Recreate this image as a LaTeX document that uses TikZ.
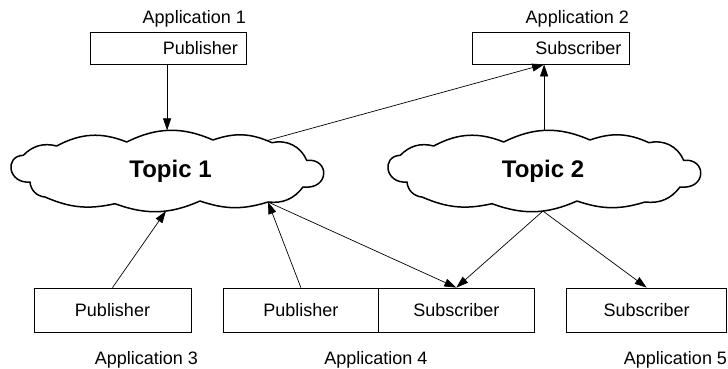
\documentclass[tikz,border=0pt]{standalone}
\usepackage{fontspec}
\setmainfont{Liberation Sans}
\usetikzlibrary{arrows.meta}
\newcommand{\cloudoutline}[1]{%
\draw[cloudline] (23.3,155.3) to[bend left=30] (56.7,146) to[bend left=25] (126.7,142)
  to[bend left=25] coordinate[pos=0.47] (#1n) (213,140)
  to[bend left=22] coordinate[pos=0.92] (#1ne) (272,142.7)
  to[bend left=40] (306.7,160.3) .. controls (330,158) and (330,190) .. (303,187)
  to[bend left=30] (268,202) coordinate (#1se)
  to[bend left=18] (200,201)
  to[bend left=22] coordinate[pos=0.4] (#1s) (115,203.7)
  to[bend left=18] (45,197) to[bend left=40] (30,182)
  .. controls (8,184) and (4,156) .. cycle;}
\begin{document}
\begin{tikzpicture}[x=1pt,y=-1pt,
  box/.style={draw, line width=0.8pt, rectangle, inner sep=0pt, font=\fontsize{18}{21}\selectfont},
  cloudline/.style={draw, line width=1.5pt, line join=round},
  topictext/.style={inner sep=0pt, font=\bfseries\fontsize{24}{28}\selectfont},
  lab/.style={font=\fontsize{18}{21}\selectfont, inner sep=0pt},
  arr/.style={line width=0.7pt, -{Triangle[length=12pt,width=8pt]}}]
\useasboundingbox (0,0) rectangle (728,369);

% top boxes
\node[box, minimum width=156, minimum height=32, text width=140, align=right] (p1) at (168,48) {Publisher};
\node[lab, anchor=base east] (a1) at (246,24) {Application 1};
\node[box, minimum width=157, minimum height=32, text width=142, align=right] (s2) at (550.5,48) {Subscriber};
\node[lab, anchor=base east] (a2) at (629,24) {Application 2};

% clouds
\cloudoutline{c1}
\begin{scope}[shift={(377,0)}]
\cloudoutline{c2}
\end{scope}
\node[topictext] (t1) at (170.5,171) {Topic 1};
\node[topictext] (t2) at (543,171) {Topic 2};

% bottom boxes
\node[box, minimum width=157, minimum height=44] (p3) at (112.5,310) {Publisher};
\node[box, minimum width=155.7, minimum height=44] (p4) at (300.85,310) {Publisher};
\node[box, minimum width=155.3, minimum height=44] (s4) at (456.35,310) {Subscriber};
\node[box, minimum width=160, minimum height=44] (s5) at (646.7,310) {Subscriber};
\node[lab, anchor=base] (a3) at (146.5,364) {Application 3};
\node[lab, anchor=base] (a4) at (376,364) {Application 4};
\node[lab, anchor=base] (a5) at (675.5,364) {Application 5};

% connectors
\draw[arr] (c1n |- p1.south) -- (c1n);
\draw[arr] (c1ne) -- (c2n |- s2.south);
\draw[arr] (c2n) -- (c2n |- s2.south);
\draw[arr] (p3.north) -- (c1s);
\draw[arr] (p4.north) -- (c1se);
\draw[arr] (c1se) -- (s4.north);
\draw[arr] (c2s) -- (s4.north);
\draw[arr] (c2s) -- (s5.north);
\end{tikzpicture}
\end{document}
